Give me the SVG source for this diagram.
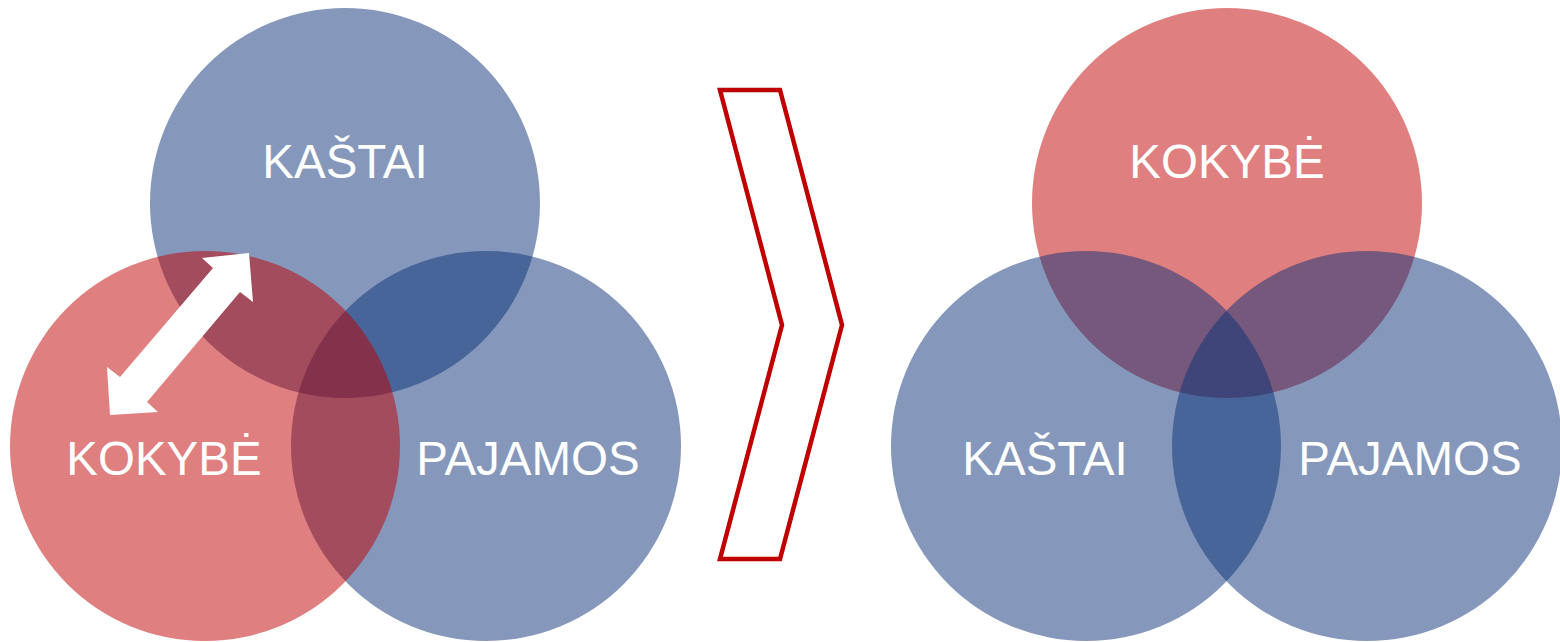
<svg xmlns="http://www.w3.org/2000/svg" width="1560" height="642" viewBox="0 0 1560 642">
<style>
.red{fill:#BF0000;fill-opacity:0.5}
.blue{fill:#0B3177;fill-opacity:0.5}
.lbl{font-family:"Liberation Sans",Arial,sans-serif;font-size:47.5px;fill:#FFFFFF;text-anchor:middle}
</style>
<rect width="1560" height="642" fill="#FFFFFF"/>
<g id="left-kastai"><circle class="blue" cx="345" cy="203" r="195"/></g>
<g id="left-pajamos"><circle class="blue" cx="486" cy="446" r="195"/></g>
<g id="left-kokybe"><circle class="red" cx="205" cy="446" r="195"/></g>
<g id="left-labels">
<text class="lbl" x="345" y="178">KAŠTAI</text>
<text class="lbl" x="164" y="475">KOKYBĖ</text>
<text class="lbl" x="528" y="475">PAJAMOS</text>
</g>
<g id="connectors">
<polygon fill="#FFFFFF" points="249,253 202,258 213,268 120,377 107,367 110,415 158,412 147,402 240,292 253,302"/>
</g>
<g id="chevron">
<polygon fill="none" stroke="#C00000" stroke-width="4.5" points="720,90 780,90 842,325 780,559 720,559 782,325"/>
</g>
<g id="right-kokybe"><circle class="red" cx="1227" cy="203" r="195"/></g>
<g id="right-kastai"><circle class="blue" cx="1086" cy="446" r="195"/></g>
<g id="right-pajamos"><circle class="blue" cx="1367" cy="446" r="195"/></g>
<g id="right-labels">
<text class="lbl" x="1227" y="178">KOKYBĖ</text>
<text class="lbl" x="1045" y="475">KAŠTAI</text>
<text class="lbl" x="1410" y="475">PAJAMOS</text>
</g>
</svg>
